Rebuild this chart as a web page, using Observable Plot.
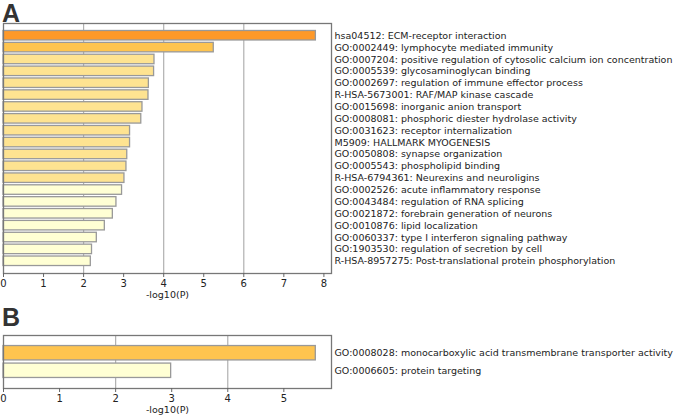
<!DOCTYPE html>
<html>
<head>
<meta charset="utf-8">
<script src="https://cdn.jsdelivr.net/npm/d3@7"></script>
<script src="https://cdn.jsdelivr.net/npm/@observablehq/plot@0.6"></script>
<style>
  html, body { margin: 0; padding: 0; background: #fff; }
  #wrap { position: relative; width: 685px; height: 420px; overflow: hidden; font-family: "DejaVu Sans", sans-serif; }
  .panel { position: absolute; left: 0; }
  .letter { position: absolute; z-index: 2; font-family: "Liberation Sans", Arial, sans-serif; font-weight: bold; font-size: 25px; color: #333; line-height: 1; }
</style>
</head>
<body>
<div id="wrap">
  <div id="pA" class="panel" style="top:0px;"></div>
  <div id="pB" class="panel" style="top:300px;"></div>
  <div class="letter" style="left:2px; top:1px;">A</div>
  <div class="letter" style="left:2px; top:305px;">B</div>
</div>
<script>
// Panel A data
const termsA = [
  "hsa04512: ECM-receptor interaction",
  "GO:0002449: lymphocyte mediated immunity",
  "GO:0007204: positive regulation of cytosolic calcium ion concentration",
  "GO:0005539: glycosaminoglycan binding",
  "GO:0002697: regulation of immune effector process",
  "R-HSA-5673001: RAF/MAP kinase cascade",
  "GO:0015698: inorganic anion transport",
  "GO:0008081: phosphoric diester hydrolase activity",
  "GO:0031623: receptor internalization",
  "M5909: HALLMARK MYOGENESIS",
  "GO:0050808: synapse organization",
  "GO:0005543: phospholipid binding",
  "R-HSA-6794361: Neurexins and neuroligins",
  "GO:0002526: acute inflammatory response",
  "GO:0043484: regulation of RNA splicing",
  "GO:0021872: forebrain generation of neurons",
  "GO:0010876: lipid localization",
  "GO:0060337: type I interferon signaling pathway",
  "GO:1903530: regulation of secretion by cell",
  "R-HSA-8957275: Post-translational protein phosphorylation"
];
const valuesA = [7.80, 5.25, 3.77, 3.76, 3.63, 3.62, 3.47, 3.44, 3.16, 3.16,
                 3.09, 3.07, 3.02, 2.96, 2.82, 2.73, 2.53, 2.33, 2.21, 2.18];
const colorsA = ["#fe9929", "#fec44f",
                 "#fee391", "#fee391", "#fee391", "#fee391", "#fee391", "#fee391", "#fee391",
                 "#fee391", "#fee391", "#fee391", "#fee391",
                 "#ffffd4", "#ffffd4", "#ffffd4", "#ffffd4", "#ffffd4", "#ffffd4", "#ffffd4"];
const ticksA = [0, 1, 2, 3, 4, 5, 6, 7, 8];
const gridA = [2, 4, 6];

// Panel B data
const termsB = [
  "GO:0008028: monocarboxylic acid transmembrane transporter activity",
  "GO:0006605: protein targeting"
];
const valuesB = [5.57, 2.99];
const colorsB = ["#fec44f", "#ffffd4"];
const ticksB = [0, 1, 2, 3, 4, 5];
const gridB = [2, 4];

const axisLabel = "-log10(P)";

function panel({terms, values, colors, ticks, grid, xmax, height, marginTop, marginBottom, padInner, padOuter}) {
  const data = terms.map((t, i) => ({term: t, value: values[i], color: colors[i]}));
  return Plot.plot({
    width: 685,
    height,
    marginLeft: 3,
    marginRight: 354,
    marginTop,
    marginBottom,
    style: {fontFamily: "DejaVu Sans, sans-serif", fontSize: "9.5px", color: "#222", background: "transparent", overflow: "visible"},
    x: {domain: [0, xmax], ticks, label: null},
    y: {domain: terms, paddingInner: padInner, paddingOuter: padOuter, round: false, label: null},
    marks: [
      Plot.ruleX(grid, {stroke: "#b0b0b0", strokeWidth: 1.2, strokeOpacity: 1}),
      Plot.barX(data, {x: "value", y: "term", fill: "color", stroke: "#999", strokeWidth: 1.3}),
      Plot.frame({stroke: "#777", strokeWidth: 1.3}),
      Plot.axisX({ticks, tickSize: 4, tickPadding: 2, stroke: "#666", fontSize: "10px", label: null, tickFormat: d => String(d)}),
      Plot.axisY({anchor: "right", tickSize: 0, tickPadding: 3, label: null, fontSize: "9.5px", fill: "#222"}),
      Plot.text([axisLabel], {frameAnchor: "bottom", dy: 24, fontSize: "9.5px", fill: "#222"})
    ]
  });
}

document.getElementById("pA").appendChild(panel({
  terms: termsA, values: valuesA, colors: colorsA, ticks: ticksA, grid: gridA,
  xmax: 8.19, height: 300, marginTop: 23, marginBottom: 27, padInner: 0.2, padOuter: 0.63
}));
document.getElementById("pB").appendChild(panel({
  terms: termsB, values: valuesB, colors: colorsB, ticks: ticksB, grid: gridB,
  xmax: 5.85, height: 120, marginTop: 35, marginBottom: 32, padInner: 0.18, padOuter: 0.6
}));
</script>
</body>
</html>
